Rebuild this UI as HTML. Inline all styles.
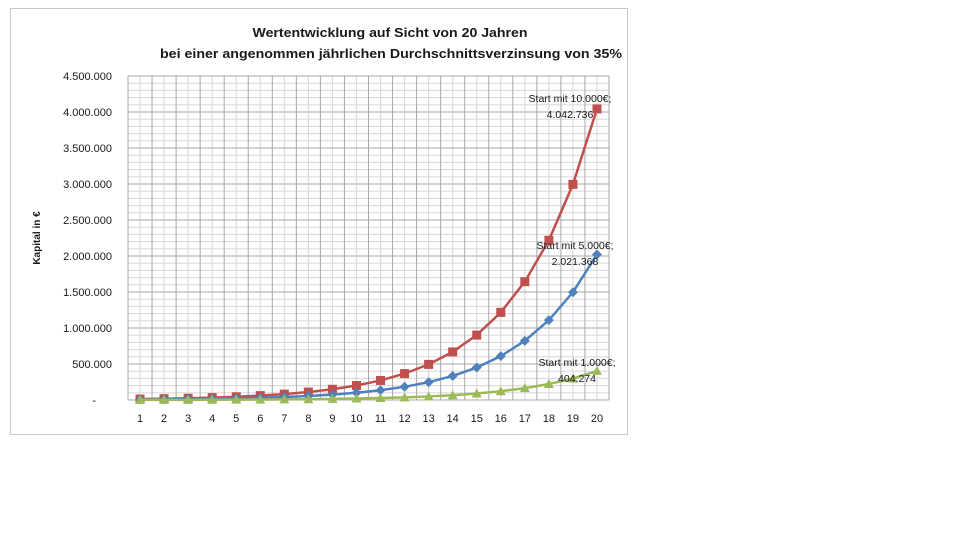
<!DOCTYPE html>
<html><head><meta charset="utf-8"><style>
html,body{margin:0;padding:0;background:#fff;}
svg{display:block;font-family:"Liberation Sans",sans-serif;}
</style></head><body>
<svg id="s" width="960" height="540" xmlns="http://www.w3.org/2000/svg">
<rect x="0" y="0" width="960" height="540" fill="#fff"/>
<rect x="10.5" y="8.5" width="617" height="426" fill="#fff" stroke="#c8c8c8" stroke-width="1"/>
<text x="390" y="37" font-size="13" font-weight="bold" text-anchor="middle" fill="#1a1a1a" textLength="275" lengthAdjust="spacingAndGlyphs">Wertentwicklung auf Sicht von 20 Jahren</text>
<text x="391" y="58" font-size="13" font-weight="bold" text-anchor="middle" fill="#1a1a1a" textLength="462" lengthAdjust="spacingAndGlyphs">bei einer angenommen  jährlichen Durchschnittsverzinsung von 35%</text>
<text transform="translate(40,238) rotate(-90)" font-size="10" font-weight="bold" text-anchor="middle" fill="#1a1a1a">Kapital in €</text>
<g id="g"></g>
</svg>
<script>
var g=document.getElementById('g'),NS='http://www.w3.org/2000/svg';
function el(t,a,txt){var e=document.createElementNS(NS,t);for(var k in a)e.setAttribute(k,a[k]);if(txt!==undefined)e.textContent=txt;g.appendChild(e);return e;}
var L=128,R=609,T=76,B=400,cw=(R-L)/20;
// minor grid
for(var i=0;i<=45;i++){var y=B-(B-T)*i/45;if(i%5)el('line',{x1:L,x2:R,y1:y,y2:y,stroke:'#dcdcdc','stroke-width':1.2});}
for(var i=0;i<20;i++){var x=L+cw*(i+0.5);el('line',{x1:x,x2:x,y1:T,y2:B,stroke:'#dcdcdc','stroke-width':1.2});}
for(var i=0;i<=9;i++){var y=B-(B-T)*i/9;el('line',{x1:L,x2:R,y1:y,y2:y,stroke:'#a8a8a8','stroke-width':1});
 var lab=i==0?'-':(i*500000).toLocaleString('de-DE');
 el('text',{x:i==0?96:112,y:y+4,'font-size':11,'text-anchor':'end',fill:'#1a1a1a'},lab);}
for(var i=0;i<=20;i++){var x=L+cw*i;el('line',{x1:x,x2:x,y1:T,y2:B,stroke:'#a8a8a8','stroke-width':1});}
for(var i=1;i<=20;i++){el('text',{x:L+cw*(i-0.5),y:422,'font-size':11,'text-anchor':'middle',fill:'#1a1a1a'},i);}
function Y(v){return B-(B-T)*v/4500000;}
var ser=[[10000,'#c0504d','sq'],[5000,'#4f81bd','di'],[1000,'#9bbb59','tr']];
ser.forEach(function(s){var pts=[];for(var n=1;n<=20;n++)pts.push([L+cw*(n-0.5),Y(s[0]*Math.pow(1.35,n))]);
 el('polyline',{points:pts.map(function(p){return p.join(',')}).join(' '),fill:'none',stroke:s[1],'stroke-width':2.5});
 pts.forEach(function(p){var x=p[0],y=p[1];
  if(s[2]=='sq')el('rect',{x:x-4.5,y:y-4.5,width:9,height:9,fill:s[1]});
  else if(s[2]=='di')el('polygon',{points:(x)+','+(y-5)+' '+(x+5)+','+y+' '+x+','+(y+5)+' '+(x-5)+','+y,fill:s[1]});
  else el('polygon',{points:x+','+(y-5)+' '+(x+5)+','+(y+4)+' '+(x-5)+','+(y+4),fill:s[1]});});});
var labs=[[570,102,118,'Start mit 10.000€;','4.042.736'],[575,249,265,'Start mit 5.000€;','2.021.368'],[577,366,382,'Start mit 1.000€;','404.274']];
labs.forEach(function(l){el('text',{x:l[0],y:l[1],'font-size':10.5,'text-anchor':'middle',fill:'#1a1a1a'},l[3]);el('text',{x:l[0],y:l[2],'font-size':10.5,'text-anchor':'middle',fill:'#1a1a1a'},l[4]);});
</script>
</body></html>
